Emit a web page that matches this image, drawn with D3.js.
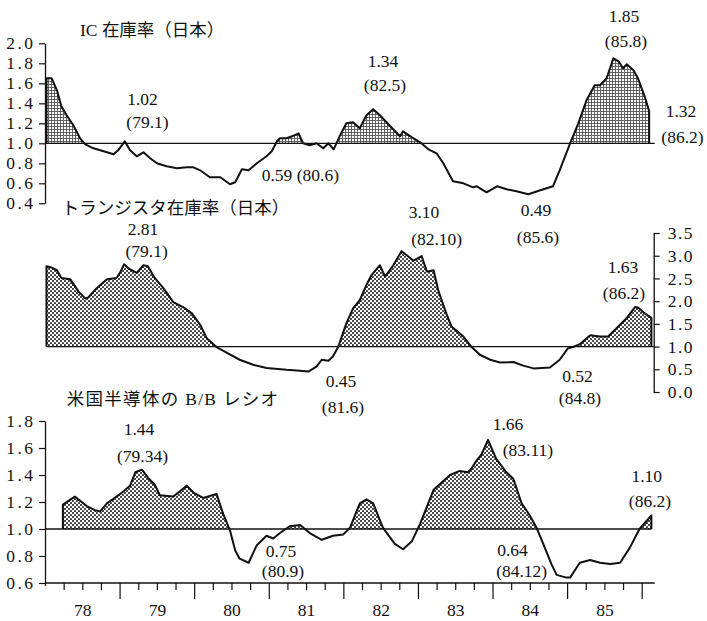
<!DOCTYPE html>
<html>
<head>
<meta charset="utf-8">
<script src="https://cdn.jsdelivr.net/npm/d3@7"></script>
<style>
  html, body { margin: 0; padding: 0; background: #fff; }
  svg { display: block; }
  text { font-family: "Liberation Serif", "Noto Sans CJK JP", serif; fill: #111; }
</style>
</head>
<body>
<svg id="chart" width="707" height="621"></svg>
<script>
// ---- data: [decimal year, ratio] ----
const icSeries = [
  [78.02,1.65],[78.09,1.65],[78.16,1.53],[78.22,1.37],[78.29,1.28],[78.38,1.18],[78.47,1.05],[78.54,0.99],
  [78.65,0.95],[78.74,0.93],[78.92,0.89],[78.98,0.93],[79.07,1.02],[79.14,0.93],[79.23,0.87],[79.32,0.91],
  [79.41,0.85],[79.50,0.80],[79.63,0.77],[79.77,0.75],[79.90,0.76],[79.99,0.76],[80.08,0.73],[80.21,0.66],
  [80.35,0.66],[80.48,0.59],[80.55,0.61],[80.64,0.74],[80.73,0.73],[80.84,0.80],[80.97,0.87],[81.04,0.92],
  [81.11,1.02],[81.15,1.05],[81.24,1.05],[81.31,1.07],[81.40,1.10],[81.46,1.00],[81.55,0.98],[81.64,1.00],
  [81.73,0.95],[81.80,1.00],[81.87,0.94],[81.95,1.07],[82.04,1.20],[82.13,1.21],[82.22,1.15],[82.31,1.28],
  [82.40,1.34],[82.49,1.28],[82.63,1.17],[82.76,1.07],[82.80,1.12],[82.92,1.06],[83.03,1.01],[83.14,0.94],
  [83.25,0.90],[83.34,0.80],[83.47,0.62],[83.61,0.60],[83.74,0.56],[83.79,0.57],[83.92,0.51],[84.06,0.57],
  [84.19,0.54],[84.32,0.52],[84.48,0.49],[84.64,0.53],[84.81,0.57],[84.90,0.73],[85.04,1.00],[85.15,1.20],
  [85.26,1.43],[85.37,1.58],[85.44,1.58],[85.53,1.65],[85.62,1.85],[85.69,1.82],[85.75,1.75],[85.80,1.79],
  [85.89,1.73],[85.95,1.65],[86.04,1.47],[86.10,1.32]
];

const transistorSeries = [
  [78.02,2.77],[78.09,2.74],[78.16,2.68],[78.22,2.51],[78.34,2.48],[78.45,2.21],[78.54,2.06],[78.58,2.08],
  [78.69,2.28],[78.83,2.48],[78.96,2.51],[79.01,2.64],[79.06,2.81],[79.12,2.72],[79.23,2.62],[79.32,2.79],
  [79.38,2.77],[79.47,2.51],[79.59,2.28],[79.72,1.98],[79.85,1.87],[79.97,1.73],[80.08,1.48],[80.17,1.18],
  [80.30,0.99],[80.44,0.86],[80.61,0.71],[80.79,0.60],[80.97,0.53],[81.24,0.49],[81.42,0.47],[81.53,0.45],
  [81.64,0.56],[81.71,0.71],[81.80,0.69],[81.86,0.78],[81.93,0.99],[82.04,1.51],[82.13,1.84],[82.22,2.02],
  [82.31,2.36],[82.38,2.58],[82.49,2.79],[82.56,2.54],[82.67,2.79],[82.78,3.10],[82.85,3.01],[82.94,2.89],
  [83.05,2.99],[83.12,2.65],[83.21,2.68],[83.27,2.25],[83.38,1.73],[83.45,1.44],[83.61,1.22],[83.72,0.99],
  [83.83,0.82],[83.97,0.71],[84.10,0.65],[84.28,0.66],[84.41,0.58],[84.55,0.52],[84.77,0.54],[84.90,0.71],
  [85.01,0.96],[85.08,0.99],[85.17,1.05],[85.31,1.25],[85.44,1.22],[85.55,1.22],[85.66,1.40],[85.80,1.63],
  [85.91,1.87],[85.95,1.86],[86.04,1.73],[86.13,1.63]
];

const bbSeries = [
  [78.24,1.18],[78.40,1.24],[78.56,1.17],[78.67,1.14],[78.74,1.13],[78.83,1.19],[79.01,1.26],[79.14,1.32],
  [79.21,1.42],[79.30,1.44],[79.38,1.38],[79.47,1.33],[79.54,1.25],[79.72,1.24],[79.90,1.32],[79.99,1.27],
  [80.12,1.23],[80.30,1.26],[80.39,1.11],[80.48,0.99],[80.55,0.84],[80.61,0.78],[80.73,0.75],[80.84,0.88],
  [80.97,0.95],[81.06,0.93],[81.15,0.97],[81.28,1.02],[81.42,1.03],[81.55,0.97],[81.71,0.92],[81.86,0.95],
  [82.00,0.96],[82.09,1.01],[82.22,1.19],[82.31,1.22],[82.40,1.19],[82.53,1.01],[82.69,0.89],[82.80,0.85],
  [82.92,0.91],[83.03,1.04],[83.21,1.29],[83.43,1.40],[83.56,1.43],[83.67,1.42],[83.72,1.45],[83.79,1.51],
  [83.85,1.55],[83.94,1.66],[84.05,1.52],[84.17,1.43],[84.28,1.37],[84.39,1.19],[84.50,1.10],[84.59,1.01],
  [84.68,0.89],[84.79,0.74],[84.86,0.66],[84.99,0.64],[85.04,0.64],[85.17,0.75],[85.31,0.77],[85.44,0.75],
  [85.58,0.74],[85.71,0.75],[85.84,0.86],[85.97,1.00],[86.13,1.10]
];

// peaks and troughs called out in each panel: marked value and its (year.month)
const icNotes = [
  { v: 1.02, date: "(79.1)" },
  { v: 0.59, date: "(80.6)" },
  { v: 1.34, date: "(82.5)" },
  { v: 1.85, date: "(85.8)" },
  { v: 1.32, date: "(86.2)" },
  { v: 0.49, date: "(85.6)" }
];
const transistorNotes = [
  { v: 2.81, date: "(79.1)" },
  { v: 3.10, date: "(82.10)" },
  { v: 0.45, date: "(81.6)" },
  { v: 0.52, date: "(84.8)" },
  { v: 1.63, date: "(86.2)" }
];
const bbNotes = [
  { v: 1.44, date: "(79.34)" },
  { v: 0.75, date: "(80.9)" },
  { v: 1.66, date: "(83.11)" },
  { v: 0.64, date: "(84.12)" },
  { v: 1.10, date: "(86.2)" }
];

const panelTitles = ["IC 在庫率（日本）", "トランジスタ在庫率（日本）", "米国半導体の B/B レシオ"];
const yearLabels = ["78", "79", "80", "81", "82", "83", "84", "85"];
const icTicks = [0.4, 0.6, 0.8, 1.0, 1.2, 1.4, 1.6, 1.8, 2.0];
const transistorTicks = [0.0, 0.5, 1.0, 1.5, 2.0, 2.5, 3.0, 3.5];
const bbTicks = [0.6, 0.8, 1.0, 1.2, 1.4, 1.6, 1.8];

// ---- layout ----
const svg = d3.select("#chart");
const defs = svg.append("defs");
const INK = "#111";
const fmt1 = d3.format(".1f");
const fmt2 = d3.format(".2f");

const x = d3.scaleLinear().domain([78, 86]).range([45, 641.7]);
const yIC = d3.scaleLinear().domain([0.4, 2.0]).range([203.3, 43.3]);
const yTr = d3.scaleLinear().domain([0, 3.5]).range([392, 233]);
const yBB = d3.scaleLinear().domain([0.6, 1.8]).range([583, 421]);
const rightAxisX = x(86) + 12;

// screen tones for the above-1.0 areas
const grid = defs.append("pattern").attr("id", "toneGrid")
  .attr("width", 3).attr("height", 3).attr("patternUnits", "userSpaceOnUse");
grid.append("rect").attr("width", 3).attr("height", 3).attr("fill", "#fff");
grid.append("path").attr("d", "M0,0.5H3M0.5,0V3").attr("stroke", "#555").attr("stroke-width", 0.9);

const dots = defs.append("pattern").attr("id", "toneDots")
  .attr("width", 4).attr("height", 4).attr("patternUnits", "userSpaceOnUse");
dots.append("rect").attr("width", 4).attr("height", 4).attr("fill", "#fff");
dots.append("circle").attr("cx", 1).attr("cy", 1).attr("r", 1.05).attr("fill", "#333");
dots.append("circle").attr("cx", 3).attr("cy", 3).attr("r", 1.05).attr("fill", "#333");

function drawPanel(series, y, id, tone, baseFrom, baseTo) {
  const base = y(1);
  const g = svg.append("g");
  defs.append("clipPath").attr("id", id)
    .append("rect").attr("x", 0).attr("y", 0).attr("width", 707).attr("height", base);

  g.append("path").datum(series)
    .attr("d", d3.area().x(d => x(d[0])).y0(base).y1(d => y(d[1])))
    .attr("fill", `url(#${tone})`)
    .attr("clip-path", `url(#${id})`);

  g.append("line")
    .attr("x1", baseFrom).attr("x2", baseTo)
    .attr("y1", base).attr("y2", base)
    .attr("stroke", INK).attr("stroke-width", 1.3);

  const pts = series.slice();
  if (pts[0][1] > 1) pts.unshift([pts[0][0], 1]);
  if (pts[pts.length - 1][1] > 1) pts.push([pts[pts.length - 1][0], 1]);
  g.append("path").datum(pts)
    .attr("d", d3.line().x(d => x(d[0])).y(d => y(d[1])))
    .attr("fill", "none")
    .attr("stroke", INK).attr("stroke-width", 2)
    .attr("stroke-linejoin", "round");
}

drawPanel(icSeries, yIC, "clipIC", "toneGrid", x(78), x(86) + 13);
drawPanel(transistorSeries, yTr, "clipTr", "toneDots", x(transistorSeries[0][0]), rightAxisX);
drawPanel(bbSeries, yBB, "clipBB", "toneDots", x(78), x(bbSeries[bbSeries.length - 1][0]));

// ---- axes ----
function styleAxis(g, spacing) {
  g.attr("font-family", null).attr("font-size", null);
  g.selectAll("path.domain").attr("stroke", INK).attr("stroke-width", 1.3);
  g.selectAll(".tick line").attr("stroke", INK).attr("stroke-width", 1.2);
  g.selectAll(".tick text")
    .style("font-size", "17.5px")
    .style("letter-spacing", spacing + "px")
    .attr("fill", INK);
}

svg.append("g").attr("transform", "translate(45,0)")
  .call(d3.axisLeft(yIC).tickValues(icTicks).tickFormat(fmt1).tickSize(6).tickSizeOuter(0).tickPadding(3.5))
  .call(g => styleAxis(g, 2.5));

svg.append("g").attr("transform", `translate(${rightAxisX},0)`)
  .call(d3.axisRight(yTr).tickValues(transistorTicks).tickFormat(fmt1).tickSize(6).tickSizeOuter(0).tickPadding(8))
  .call(g => styleAxis(g, 1.5));

svg.append("g").attr("transform", "translate(45,0)")
  .call(d3.axisLeft(yBB).tickValues(bbTicks).tickFormat(fmt1).tickSize(6).tickSizeOuter(0).tickPadding(3.5))
  .call(g => styleAxis(g, 2.5));

// time axis: quarter ticks, longer ones at year boundaries, year names mid-year
const quarters = d3.range(0, 33).map(i => 78 + i * 0.25);
const xAxisG = svg.append("g").attr("transform", `translate(0,${yBB(0.6)})`)
  .call(d3.axisBottom(x).tickValues(quarters).tickFormat("").tickSizeOuter(0));
xAxisG.select("path.domain").remove();
xAxisG.selectAll(".tick line")
  .attr("y2", d => (d === 78 ? 3 : (Number.isInteger(d) ? 16 : 7)))
  .attr("stroke", INK).attr("stroke-width", 1.2);
xAxisG.append("line")
  .attr("x1", x(78)).attr("x2", x(86) + 13)
  .attr("stroke", INK).attr("stroke-width", 1.3);

const yearAxis = svg.append("g").attr("transform", `translate(0,${yBB(0.6)})`)
  .call(d3.axisBottom(x).tickValues(yearLabels.map((_, i) => 78.5 + i))
    .tickFormat((d, i) => yearLabels[i]).tickSize(0).tickPadding(20.5));
yearAxis.select("path.domain").remove();
yearAxis.attr("font-family", null).attr("font-size", null);
yearAxis.selectAll("text").style("font-size", "17.5px").attr("fill", INK);

// ---- titles ----
const titleLayout = [
  { x: 80, y: 35.5, spacing: 0 },
  { x: 61.7, y: 213.5, spacing: 0 },
  { x: 66.7, y: 404.5, spacing: 1.3 }
];
panelTitles.forEach((t, i) => {
  svg.append("text")
    .attr("x", titleLayout[i].x).attr("y", titleLayout[i].y)
    .style("font-size", "17.5px")
    .style("letter-spacing", titleLayout[i].spacing + "px")
    .text(t);
});

// ---- call-out labels ----
const icLayout = [
  { vx: 142.5, vy: 105, dx: 147.5, dy: 128 },
  { inline: true, x: 261.7, y: 181 },
  { vx: 383, vy: 66.7, dx: 385, dy: 91 },
  { vx: 624, vy: 21.7, dx: 626, dy: 47 },
  { vx: 681, vy: 116.7, dx: 682.5, dy: 143 },
  { vx: 536, vy: 216, dx: 538, dy: 243 }
];
const transistorLayout = [
  { vx: 143, vy: 235, dx: 146.7, dy: 257 },
  { vx: 424, vy: 218.3, dx: 436.7, dy: 245 },
  { vx: 341, vy: 386.7, dx: 343, dy: 413 },
  { vx: 577.5, vy: 381.7, dx: 580, dy: 404 },
  { vx: 623, vy: 273, dx: 624, dy: 299 }
];
const bbLayout = [
  { vx: 139, vy: 435, dx: 142.5, dy: 462 },
  { vx: 281, vy: 556.5, dx: 283, dy: 577 },
  { vx: 508, vy: 430, dx: 528, dy: 456 },
  { vx: 512.5, vy: 556, dx: 521.7, dy: 577 },
  { vx: 646.7, vy: 481.7, dx: 650, dy: 507 }
];

function drawNotes(notes, layout) {
  const g = svg.append("g").style("font-size", "17.5px");
  notes.forEach((n, i) => {
    const L = layout[i];
    if (L.inline) {
      g.append("text").attr("x", L.x).attr("y", L.y)
        .text(fmt2(n.v) + " " + n.date);
    } else {
      g.append("text").attr("x", L.vx).attr("y", L.vy)
        .attr("text-anchor", "middle").text(fmt2(n.v));
      g.append("text").attr("x", L.dx).attr("y", L.dy)
        .attr("text-anchor", "middle").text(n.date);
    }
  });
}
drawNotes(icNotes, icLayout);
drawNotes(transistorNotes, transistorLayout);
drawNotes(bbNotes, bbLayout);
</script>
</body>
</html>
